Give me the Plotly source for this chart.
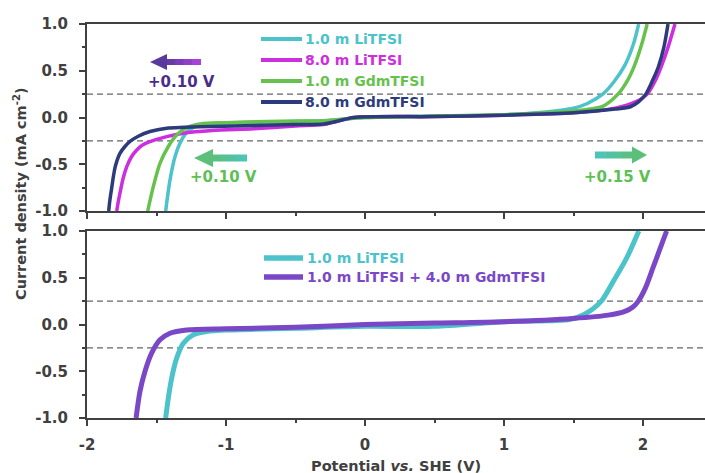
import plotly.graph_objects as go

# ---------------- data ----------------
# top panel
top_li1_v = [-1.434, -1.403, -1.367, -1.319, -1.271, -1.187, -1.0, -0.6, -0.3, 0.0, 0.5, 1.0, 1.3, 1.5, 1.6, 1.71, 1.79, 1.87, 1.93, 1.969]
top_li1_j = [-1.0, -0.67, -0.42, -0.24, -0.141, -0.08, -0.06, -0.045, -0.035, 0.0, 0.015, 0.03, 0.06, 0.1, 0.15, 0.25, 0.38, 0.56, 0.78, 1.0]

top_li8_v = [-1.786, -1.775, -1.763, -1.74, -1.714, -1.68, -1.642, -1.6, -1.547, -1.427, -1.307, -1.1, -0.8, -0.5, -0.3, -0.2, -0.08, 0.5, 1.0, 1.5, 1.8, 1.95, 2.03, 2.09, 2.13, 2.18, 2.23]
top_li8_j = [-1.0, -0.9, -0.81, -0.65, -0.526, -0.42, -0.348, -0.295, -0.259, -0.205, -0.169, -0.14, -0.12, -0.09, -0.075, -0.04, 0.0, 0.01, 0.025, 0.05, 0.1, 0.17, 0.25, 0.4, 0.54, 0.75, 1.0]

top_gdm1_v = [-1.563, -1.523, -1.475, -1.415, -1.355, -1.283, -1.187, -1.0, -0.6, -0.3, 0.0, 0.5, 1.0, 1.3, 1.5, 1.71, 1.82, 1.89, 1.94, 1.99, 2.03]
top_gdm1_j = [-1.0, -0.74, -0.49, -0.31, -0.187, -0.109, -0.07, -0.055, -0.04, -0.035, 0.0, 0.015, 0.03, 0.05, 0.07, 0.12, 0.25, 0.4, 0.56, 0.78, 1.0]

top_gdm8_v = [-1.844, -1.835, -1.822, -1.81, -1.797, -1.763, -1.727, -1.686, -1.631, -1.547, -1.427, -1.3, -1.1, -0.8, -0.5, -0.3, -0.2, -0.08, 0.5, 1.0, 1.5, 1.8, 1.91, 1.97, 2.02, 2.07, 2.11, 2.15, 2.18]
top_gdm8_j = [-1.0, -0.88, -0.75, -0.63, -0.526, -0.384, -0.31, -0.25, -0.2, -0.15, -0.115, -0.105, -0.095, -0.085, -0.075, -0.07, -0.04, 0.0, 0.01, 0.025, 0.05, 0.09, 0.115, 0.17, 0.25, 0.4, 0.54, 0.75, 1.0]

# bottom panel
bot_li1_v = [-1.434, -1.415, -1.391, -1.355, -1.307, -1.235, -1.139, -1.0, -0.5, 0.0, 0.5, 1.0, 1.3, 1.46, 1.58, 1.70, 1.786, 1.882, 1.97]
bot_li1_j = [-1.0, -0.787, -0.574, -0.36, -0.2, -0.11, -0.076, -0.06, -0.04, -0.02, -0.02, 0.03, 0.04, 0.05, 0.11, 0.25, 0.46, 0.71, 1.0]

bot_mix_v = [-1.647, -1.619, -1.583, -1.535, -1.475, -1.403, -1.283, -1.0, -0.5, 0.0, 0.5, 1.0, 1.5, 1.75, 1.87, 1.93, 1.966, 2.02, 2.07, 2.12, 2.17]
bot_mix_j = [-1.0, -0.717, -0.503, -0.307, -0.164, -0.093, -0.058, -0.045, -0.03, 0.0, 0.015, 0.03, 0.065, 0.1, 0.14, 0.19, 0.25, 0.4, 0.6, 0.8, 1.0]

top_names = ["1.0 m LiTFSI", "8.0 m LiTFSI", "1.0 m GdmTFSI", "8.0 m GdmTFSI"]
bot_names = ["1.0 m LiTFSI", "1.0 m LiTFSI + 4.0 m GdmTFSI"]
y_ticks = [-1.0, -0.5, 0.0, 0.5, 1.0]
y_ticktext = ["-1.0", "-0.5", "0.0", "0.5", "1.0"]
x_ticks = [-2, -1, 0, 1, 2]
x_ticktext = ["-2", "-1", "0", "1", "2"]
window_levels = [0.25, -0.25]

# ---------------- styles ----------------
CYAN = "#4cc2cb"
MAGENTA = "#cc2ee0"
GREEN = "#66c24c"
NAVY = "#2d3b7c"
PURPLE = "#7a48c6"
AXC = "#404040"
FONT = "DejaVu Sans"

W, H = 705, 473
ML, MR, MT, MB = 87, 0, 24, 55
PW, PH = W - ML - MR, H - MT - MB

def px(x):
    return (x - ML) / PW

def py(y):
    return (H - MB - y) / PH

top_dom = [py(211), 1.0]
bot_dom = [0.0, py(231)]
xr = [-2, -2 + PW / 139.0]

fig = go.Figure()

top_series = [(top_li1_v, top_li1_j, CYAN), (top_li8_v, top_li8_j, MAGENTA),
              (top_gdm1_v, top_gdm1_j, GREEN), (top_gdm8_v, top_gdm8_j, NAVY)]
for (v, j, c), n in zip(top_series, top_names):
    fig.add_trace(go.Scatter(x=v, y=j, mode="lines", name=n, xaxis="x", yaxis="y",
                             line=dict(color=c, width=3.5, shape="spline", smoothing=0.8),
                             showlegend=False))

bot_series = [(bot_li1_v, bot_li1_j, CYAN), (bot_mix_v, bot_mix_j, PURPLE)]
for (v, j, c), n in zip(bot_series, bot_names):
    fig.add_trace(go.Scatter(x=v, y=j, mode="lines", name=n, xaxis="x2", yaxis="y2",
                             line=dict(color=c, width=5, shape="spline", smoothing=0.8),
                             showlegend=False))

tickfont = dict(family=FONT, size=15, color=AXC, weight="bold")
xax = dict(range=xr, tickvals=x_ticks, ticktext=x_ticktext, ticks="outside", ticklen=6, tickwidth=2, tickcolor=AXC,
           showline=True, linewidth=2, linecolor=AXC, mirror=True, showgrid=False, zeroline=False,
           minor=dict(ticks="outside", ticklen=3, tickwidth=2, tickcolor=AXC, dtick=0.5, tick0=0),
           tickfont=tickfont, ticklabelstandoff=6)
yax = dict(range=[-1, 1], tickvals=y_ticks, ticktext=y_ticktext, ticks="outside", ticklen=6, tickwidth=2,
           tickcolor=AXC, showline=True, linewidth=2, linecolor=AXC, showgrid=False, zeroline=False,
           minor=dict(ticks="outside", ticklen=3, tickwidth=2, tickcolor=AXC, dtick=0.25, tick0=0),
           tickfont=tickfont, ticklabelstandoff=8)

fig.update_layout(
    width=W, height=H, margin=dict(l=ML, r=MR, t=MT, b=MB),
    paper_bgcolor="white", plot_bgcolor="white",
    xaxis=dict(xax, anchor="y", showticklabels=False),
    yaxis=dict(yax, domain=top_dom, anchor="x"),
    xaxis2=dict(xax, anchor="y2"),
    yaxis2=dict(yax, domain=bot_dom, anchor="x2"),
)

shapes = []
# dashed reference lines
for yref in ["y", "y2"]:
    for lv in window_levels:
        shapes.append(dict(type="line", xref="paper", x0=0, x1=1, yref=yref, y0=lv, y1=lv,
                           line=dict(color="#666666", width=1.2, dash="6px,4px"), layer="below"))

# legends (drawn manually so texts can take series colours)
ann = []
top_rows = [39, 60, 81, 102]
for n, (v, j, c), yy in zip(top_names, top_series, top_rows):
    shapes.append(dict(type="line", xref="paper", yref="paper", x0=px(261), x1=px(302), y0=py(yy), y1=py(yy),
                       line=dict(color=c, width=4)))
    ann.append(dict(xref="paper", yref="paper", x=px(303), y=py(yy), text=n, showarrow=False,
                    xanchor="left", yanchor="middle", font=dict(family=FONT, size=14, color=c, weight="bold")))
bot_rows = [258, 277]
for n, (v, j, c), yy in zip(bot_names, bot_series, bot_rows):
    shapes.append(dict(type="line", xref="paper", yref="paper", x0=px(264), x1=px(303), y0=py(yy), y1=py(yy),
                       line=dict(color=c, width=5.5)))
    ann.append(dict(xref="paper", yref="paper", x=px(305), y=py(yy), text=n, showarrow=False,
                    xanchor="left", yanchor="middle", font=dict(family=FONT, size=14, color=c, weight="bold")))

# arrows
def mix(c1, c2, t):
    a = [int(c1[i:i + 2], 16) for i in (1, 3, 5)]
    b = [int(c2[i:i + 2], 16) for i in (1, 3, 5)]
    return "#" + "".join("%02x" % round(a[k] + (b[k] - a[k]) * t) for k in range(3))

def arrow(tip, base, tail, yc, sh, hh, c_head, c_tail, nseg=4):
    d = 1 if tail > tip else -1
    for k in range(nseg):
        xa = base + (tail - base) * k / nseg - d * 0.5
        xb = base + (tail - base) * (k + 1) / nseg
        col = mix(c_head, c_tail, (k + 0.5) / nseg)
        shapes.append(dict(type="rect", xref="paper", yref="paper", x0=px(min(xa, xb)), x1=px(max(xa, xb)),
                           y0=py(yc + sh), y1=py(yc - sh), fillcolor=col, line=dict(width=0)))
    path = "M %f %f L %f %f L %f %f Z" % (px(tip), py(yc), px(base), py(yc - hh), px(base), py(yc + hh))
    shapes.append(dict(type="path", xref="paper", yref="paper", path=path, fillcolor=c_head, line=dict(width=0)))

arrow(150, 167, 201, 62, 3, 8, "#5b3a9e", "#b043e0")
arrow(194, 213, 247, 158, 3.5, 9, "#5cc07a", "#4cc4bc")
arrow(647, 632, 595, 155, 3.5, 8.5, "#5cc07a", "#4cc4c2")

lab_font = dict(family=FONT, size=15, weight="bold")
ann.append(dict(xref="paper", yref="paper", x=px(181), y=py(82), text="+0.10 V", showarrow=False,
                xanchor="center", yanchor="middle", font=dict(lab_font, color="#4a2c8a")))
ann.append(dict(xref="paper", yref="paper", x=px(223), y=py(177), text="+0.10 V", showarrow=False,
                xanchor="center", yanchor="middle", font=dict(lab_font, color="#5dbf55")))
ann.append(dict(xref="paper", yref="paper", x=px(617), y=py(177), text="+0.15 V", showarrow=False,
                xanchor="center", yanchor="middle", font=dict(lab_font, color="#5dbf55")))

# axis titles
ann.append(dict(xref="paper", yref="paper", x=0.5, y=py(466), text="Potential <i>vs.</i> SHE (V)",
                showarrow=False, xanchor="center", yanchor="middle",
                font=dict(family=FONT, size=14.5, color=AXC, weight="bold")))
ann.append(dict(xref="paper", yref="paper", x=px(20), y=py(194), text="Current density (mA cm<sup>-2</sup>)",
                showarrow=False, textangle=-90, xanchor="center", yanchor="middle",
                font=dict(family=FONT, size=14.5, color=AXC, weight="bold")))

fig.update_layout(shapes=shapes, annotations=ann)
fig.write_html("out.html")
